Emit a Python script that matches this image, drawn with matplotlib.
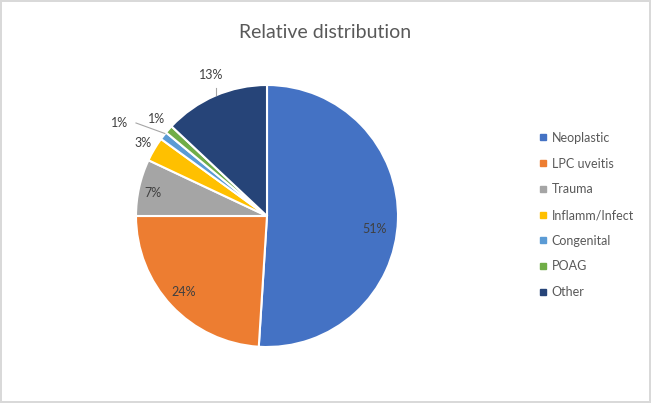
import numpy as np
import matplotlib
matplotlib.use("Agg")
import matplotlib.pyplot as plt
from matplotlib.lines import Line2D

categories = ["Neoplastic", "LPC uveitis", "Trauma", "Inflamm/Infect",
              "Congenital", "POAG", "Other"]
values = [51, 24, 7, 3, 1, 1, 13]
labels = ["51%", "24%", "7%", "3%", "1%", "1%", "13%"]
colors = ["#4472C4", "#ED7D31", "#A5A5A5", "#FFC000", "#5B9BD5", "#70AD47", "#264478"]

# label distance (in radii) and angle nudge (deg) per slice, Excel-like placement
label_r = [0.83, 0.86, 0.89, 1.10, 1.33, 1.12, 1.16]
label_nudge = [-5, -1, 1, 0, 5.5, 0, -2]

plt.rcParams["font.family"] = ["Lato", "DejaVu Sans"]

fig = plt.figure(figsize=(6.51, 4.03), dpi=100)
fig.patch.set_edgecolor("#D9D9D9")
fig.patch.set_linewidth(1.5)

W, H = 651, 403
cx, cy, r = 267, 216, 131
ax = fig.add_axes([(cx - r) / W, 1 - (cy + r) / H, 2 * r / W, 2 * r / H])
wedges, _ = ax.pie(values, colors=colors, startangle=90, counterclock=False,
                   radius=1, wedgeprops=dict(edgecolor="white", linewidth=1.5))
ax.set_xlim(-1, 1)
ax.set_ylim(-1, 1)
ax.set_aspect("equal")
ax.axis("off")

for w, lab, lr, dn in zip(wedges, labels, label_r, label_nudge):
    mid = np.deg2rad((w.theta1 + w.theta2) / 2 + dn)
    x, y = lr * np.cos(mid), lr * np.sin(mid)
    ax.text(x, y, lab, ha="center", va="center", fontsize=9, color="#404040",
            clip_on=False)

# leader lines for the small outside labels
ax.plot([-1.00, -0.78], [0.71, 0.63], color="#A6A6A6", lw=0.8, clip_on=False)
ax.plot([-0.39, -0.39], [0.98, 0.92], color="#A6A6A6", lw=0.8, clip_on=False)

fig.text(0.5, 1 - 33 / H, "Relative distribution", ha="center", va="center",
         fontsize=14, color="#595959")

handles = [Line2D([0], [0], marker="s", linestyle="", markersize=5,
                  markerfacecolor=c, markeredgecolor=c) for c in colors]
fig.legend(handles, categories, loc="center left",
           bbox_to_anchor=(528 / W, 1 - 215 / H), frameon=False,
           fontsize=9, labelcolor="#595959", handlelength=0.6,
           handletextpad=0.4, labelspacing=1.1)

fig.savefig("out.png", dpi=100, facecolor="white", edgecolor=fig.get_edgecolor())
